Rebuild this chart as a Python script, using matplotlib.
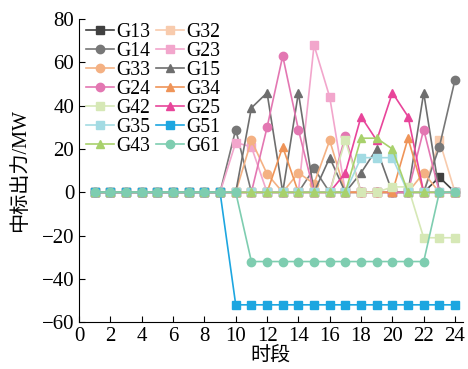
import matplotlib
matplotlib.use("Agg")
import matplotlib.pyplot as plt

t = list(range(1, 25))
z9 = [0] * 9

G13 = z9 + [0, 0, 0, 0, 0, 0, 0, 0, 0, 0, 0, 0, 0, 7, 0]
G14 = z9 + [29, 0, 0, 0, 0, 11, 0, 0, 0, 0, 0, 0, 0, 21, 52]
G33 = z9 + [0, 24, 8.5, 0, 9, 4, 24, 0, 0, 0, 0, 0, 9, 0, 0]
G24 = z9 + [0, 0, 30, 63, 29, 0, 0, 26, 0, 0, 0, 0, 29, 0, 0]
G42 = z9 + [0, 0, 0, 0, 0, 0, 0, 24, 0, 0, 2.5, 2.5, -21, -21, -21]
G35 = z9 + [0, 0, 0, 0, 0, 0, 0, 0, 16, 16, 16, 0, 0, 0, 0]
G43 = z9 + [0, 0, 0, 0, 0, 0, 0, 0, 25, 25, 20, 0, 0, 0, 0]
G32 = z9 + [0, 0, 0, 0, 0, 0, 0, 0, 0, 0, 0, 0, 0, 24, 0]
G23 = z9 + [23, 21, 0, 0, 0, 68, 44, 0, 0, 0, 0, 0, 0, 0, 0]
G15 = z9 + [0, 39, 46, 0, 46, 0, 16, 0, 9, 20, 0, 0, 46, 0, 0]
G34 = z9 + [0, 0, 0, 21, 0, 0, 0, 0, 0, 0, 0, 25, 0, 0, 0]
G25 = z9 + [0, 0, 0, 0, 0, 0, 0, 9, 35, 24, 46, 35, 0, 0, 0]
G51 = z9 + [-52] * 15
G61 = z9 + [0] + [-32] * 12 + [0, 0]

# drawing order (row-major pairs), legend shown column-major
series = [
    ("G13", G13, "#404040", "s"),
    ("G32", G32, "#f8cbad", "s"),
    ("G14", G14, "#777777", "o"),
    ("G23", G23, "#f2a6cc", "s"),
    ("G33", G33, "#f4b183", "o"),
    ("G15", G15, "#6e6e6e", "^"),
    ("G24", G24, "#e377b2", "o"),
    ("G34", G34, "#ef9458", "^"),
    ("G42", G42, "#d6e8b6", "s"),
    ("G25", G25, "#e8459a", "^"),
    ("G35", G35, "#a3dbe3", "s"),
    ("G51", G51, "#1da6e0", "s"),
    ("G43", G43, "#a8d16c", "^"),
    ("G61", G61, "#7ecdb0", "o"),
]
legend_order = ["G13", "G14", "G33", "G24", "G42", "G35", "G43",
                "G32", "G23", "G15", "G34", "G25", "G51", "G61"]

plt.rcParams['font.family'] = ['Liberation Serif', 'Noto Sans CJK SC']
fig = plt.figure(figsize=(4.68, 3.69), dpi=100)
ax = fig.add_axes([0.169, 0.127, 0.82, 0.821])

handles = {}
for name, vals, col, mk in series:
    h, = ax.plot(t, vals, color=col, marker=mk, markersize=6, linewidth=1.2,
                 label=name, clip_on=False)
    handles[name] = h

ax.set_xlim(0, 24.5)
ax.set_ylim(-60, 80)
ax.set_xticks(range(0, 25, 2))
ax.set_yticks(range(-60, 81, 20))
ax.tick_params(direction='in', labelsize=15, length=4)
for s in ['top', 'right']:
    ax.spines[s].set_visible(False)

ax.set_xlabel("时段", fontsize=14.5, family=['Noto Sans CJK SC'], labelpad=0)
ax.set_ylabel("中标出力/MW", fontsize=14.5, family=['Liberation Serif', 'Noto Sans CJK SC'])
ax.yaxis.set_label_coords(-0.128, 0.50)

leg = ax.legend([handles[n] for n in legend_order], legend_order,
                ncol=2, loc='upper left', bbox_to_anchor=(86 / 468, 1 - 23 / 369),
                bbox_transform=fig.transFigure, frameon=False,
                fontsize=14.2, handlelength=1.4, handletextpad=0.12, columnspacing=0.3,
                labelspacing=0.0, borderpad=0.0, borderaxespad=0.0)

fig.savefig("out.png", dpi=100)
